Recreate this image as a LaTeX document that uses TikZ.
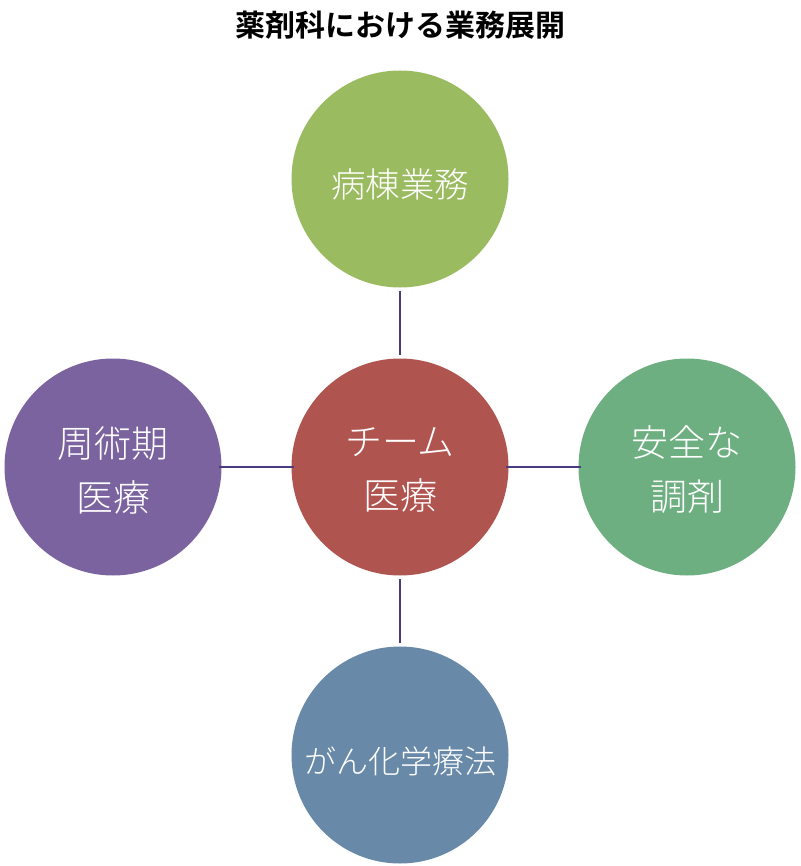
\documentclass[tikz,border=0pt]{standalone}
\usepackage{fontspec}
\setmainfont{Noto Sans CJK JP}
\newfontfamily\cjkbold{Noto Sans CJK JP}[UprightFont=* Bold]
\IfFontExistsTF{Noto Sans CJK JP Light}{\newfontfamily\cjklight{Noto Sans CJK JP Light}}{\newfontfamily\cjklight{Noto Sans CJK JP}}
\definecolor{cgreen}{HTML}{9BBB61}
\definecolor{cred}{HTML}{B0544F}
\definecolor{cpurple}{HTML}{7B63A0}
\definecolor{cteal}{HTML}{6DAF80}
\definecolor{cblue}{HTML}{6889A7}
\definecolor{clink}{HTML}{4A3A80}
\tikzset{
  ball/.style={circle, minimum size=217pt, inner sep=0pt},
  balltext/.style={text=white, align=center, inner sep=0pt, font=\cjklight\fontsize{37}{54}\selectfont},
  link/.style={draw=clink, line width=2.1pt}
}
\begin{document}
\begin{tikzpicture}[x=1pt,y=-1pt]
\useasboundingbox (0,0) rectangle (800,866);
\node[font=\cjkbold\fontsize{30}{33}\selectfont, text=black] (title) at (400,25) {薬剤科における業務展開};
\node[ball, fill=cgreen] (top) at (400,179) {};
\node[ball, fill=cred] (mid) at (400,467) {};
\node[ball, fill=cpurple] (left) at (113,467) {};
\node[ball, fill=cteal] (right) at (687,467) {};
\node[ball, fill=cblue] (bot) at (400,755) {};
\node[balltext, font=\cjklight\fontsize{34.5}{40}\selectfont] (topt) at ([yshift=-5pt]top.center) {病棟業務};
\node[balltext] (midt) at ([yshift=-3pt]mid.center) {チーム\\医療};
\node[balltext] (leftt) at ([yshift=-3pt]left.center) {周術期\\医療};
\node[balltext] (rightt) at ([yshift=-3pt]right.center) {安全な\\調剤};
\node[balltext, font=\cjklight\fontsize{32}{40}\selectfont] (bott) at ([yshift=-6pt]bot.center) {がん化学療法};
\draw[link] ([yshift=-3pt]top.south) -- ([yshift=3pt]mid.north);
\draw[link] ([yshift=3pt]bot.north) -- ([yshift=-3pt]mid.south);
\draw[link] ([xshift=-3pt]left.east) -- ([xshift=3pt]mid.west);
\draw[link] ([xshift=3pt]right.west) -- ([xshift=-3pt]mid.east);
\end{tikzpicture}
\end{document}
